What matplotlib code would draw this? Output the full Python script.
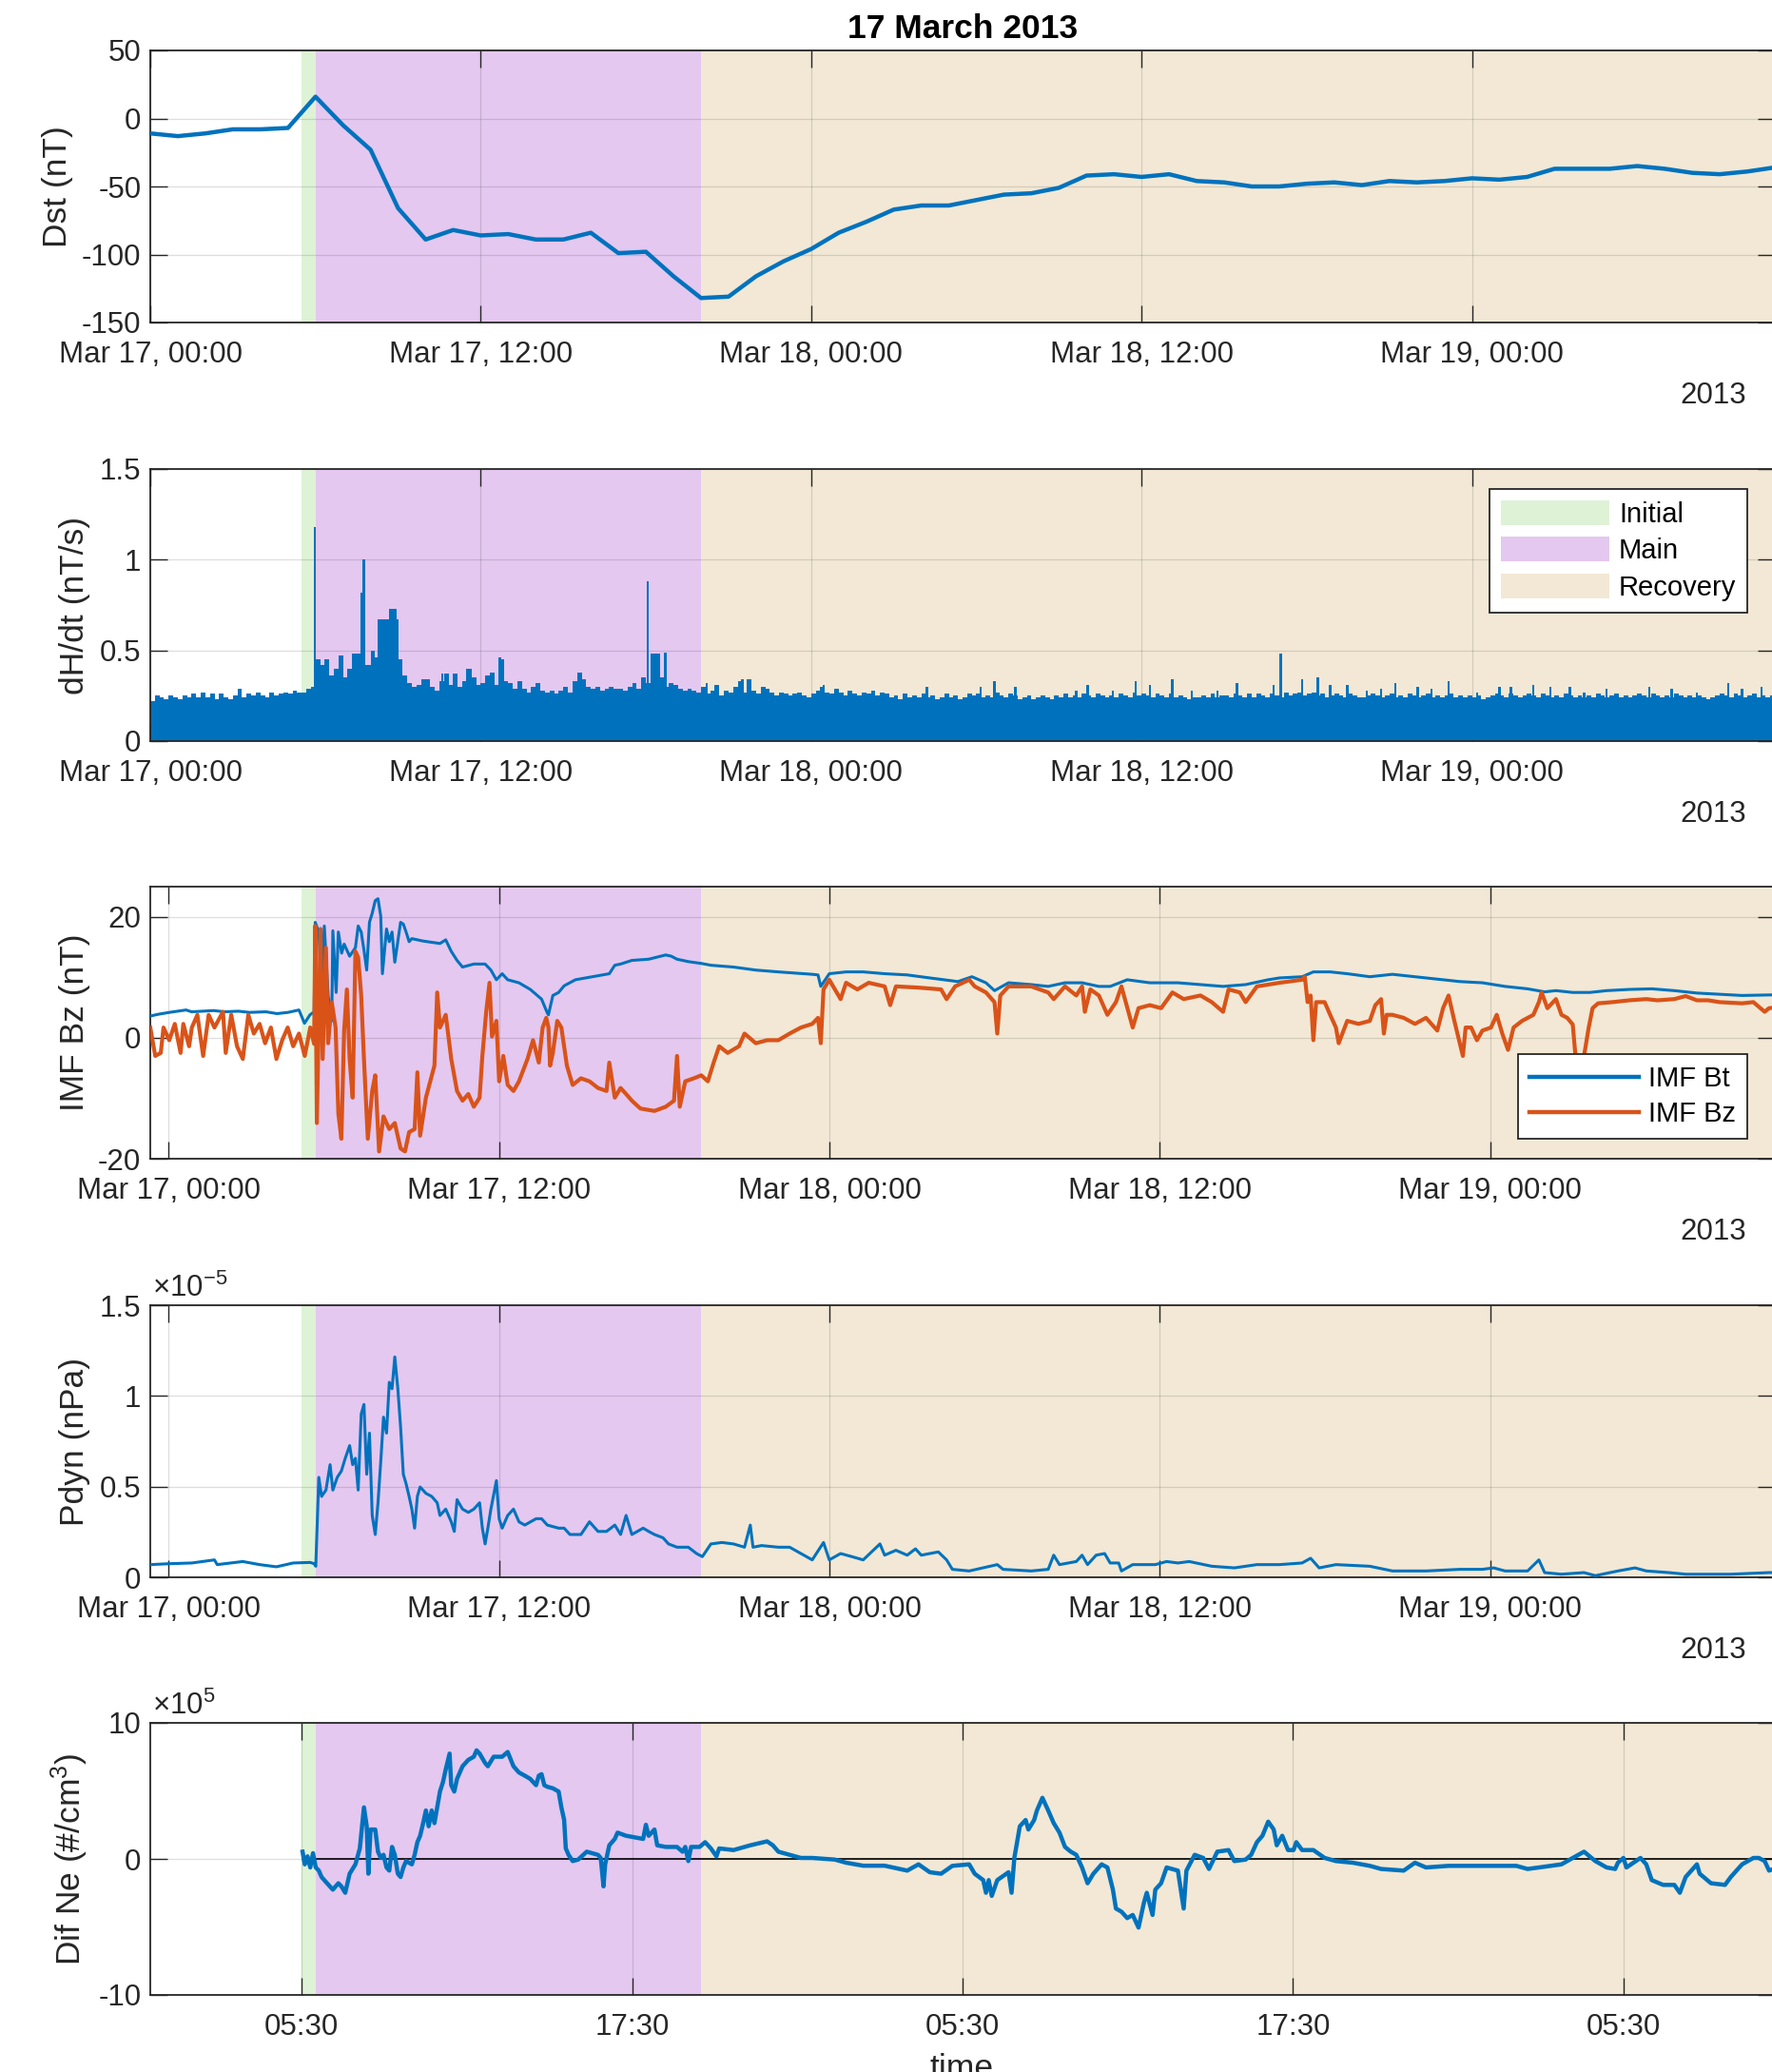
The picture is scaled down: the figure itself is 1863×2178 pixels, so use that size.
import numpy as np
import matplotlib
matplotlib.use('Agg')
import matplotlib.pyplot as plt
from matplotlib.patches import Patch
from matplotlib.lines import Line2D

plt.rcParams['font.family'] = ['Liberation Sans', 'DejaVu Sans']
plt.rcParams['mathtext.fontset'] = 'custom'
plt.rcParams['mathtext.rm'] = 'Liberation Sans'
plt.rcParams['mathtext.it'] = 'Liberation Sans:italic'
plt.rcParams['mathtext.bf'] = 'Liberation Sans:bold'
plt.rcParams['axes.unicode_minus'] = False

# ---------------- data (time in hours since 17 March 2013 00:00 UT) ----------------
T_END = 59.0
phase_names = ['Initial', 'Main', 'Recovery']
phase_bounds = [(5.5, 6.0), (6.0, 20.0), (20.0, T_END)]
phase_colors = ['#DEF2D6', '#E4C8F0', '#F2E8D5']

# Dst, hourly values (nT)
dst = [-11, -13, -11, -8, -8, -7, 16, -5, -23, -66, -89, -82, -86, -85, -89, -89,
       -84, -99, -98, -116, -132, -131, -116, -105, -96, -84, -76, -67, -64, -64,
       -60, -56, -55, -51, -42, -41, -43, -41, -46, -47, -50, -50, -48, -47, -49,
       -46, -47, -46, -44, -45, -43, -37, -37, -37, -35, -37, -40, -41, -39, -36]

# dH/dt envelope, 10-minute bins (nT/s)
dhdt_10min = [
    .22, .25, .24, .23, .25, .24,  .23, .25, .24, .26, .24, .27,
    .24, .26, .23, .26, .24, .23,  .25, .29, .24, .26, .25, .27,
    .25, .24, .27, .25, .26, .27,  .26, .28, .27, .27, .29, .30,
    .45, .42, .45, .36, .40, .47,  .35, .40, .48, .48, .42, .42,
    .50, .46, .67, .67, .73, .67,  .45, .36, .32, .30, .31, .34,
    .34, .30, .28, .33, .37, .31,  .37, .30, .33, .40, .35, .31,
    .32, .36, .38, .31, .45, .33,  .32, .29, .33, .29, .27, .30,
    .32, .28, .27, .28, .26, .28,  .30, .27, .33, .38, .34, .30,
    .29, .30, .28, .29, .30, .29,  .29, .28, .30, .32, .29, .35,
    .32, .48, .48, .35, .30, .32,  .31, .29, .28, .29, .28, .27,
    .30, .26, .28, .31, .25, .28,  .27, .30, .33, .27, .34, .28,
    .26, .30, .29, .27, .25, .27,  .26, .25, .26, .27, .25, .24,
    .26, .28, .30, .27, .26, .29,  .27, .25, .28, .26, .25, .27,
    .26, .28, .25, .27, .26, .24,  .25, .23, .26, .24, .25, .24,
    .26, .24, .25, .23, .24, .26,  .24, .25, .23, .24, .26, .25,
    .26, .24, .25, .24, .27, .25,  .24, .26, .25, .23, .24, .25,
    .23, .24, .25, .24, .23, .25,  .24, .26, .24, .25, .24, .26,
    .25, .24, .26, .25, .24, .25,  .24, .26, .25, .24, .27, .25,
    .26, .25, .24, .26, .25, .24,  .26, .24, .25, .24, .23, .24,
    .24, .25, .24, .26, .24, .25,  .25, .24, .26, .25, .24, .26,
    .24, .26, .25, .24, .26, .25,  .24, .27, .25, .26, .27, .25,
    .26, .27, .25, .26, .24, .25,  .26, .25, .24, .26, .25, .24,
    .24, .25, .26, .25, .24, .25,  .26, .24, .25, .24, .26, .25,
    .24, .25, .26, .24, .25, .24,  .25, .26, .24, .25, .24, .25,
    .24, .25, .23, .24, .25, .26,  .25, .24, .26, .25, .24, .25,
    .26, .25, .24, .26, .25, .24,  .25, .24, .26, .25, .24, .25,
    .24, .25, .24, .26, .25, .24,  .25, .26, .24, .25, .24, .25,
    .26, .25, .24, .26, .25, .24,  .25, .24, .26, .25, .24, .25,
    .24, .25, .24, .23, .24, .25,  .26, .25, .24, .26, .25, .24,
    .25, .26, .24, .25, .24, .25,
]
# narrow dH/dt spikes (hour, nT/s)
dhdt_spikes = [
    (5.97, 1.18), (6.14, 0.45), (7.66, 0.82), (7.76, 1.00), (8.31, 0.67), (8.90, 0.73),
    (10.60, 0.37), (11.50, 0.40), (12.70, 0.46), (15.60, 0.38), (18.06, 0.88),
    (18.41, 0.48), (18.70, 0.49), (20.20, 0.32), (21.50, 0.34), (24.45, 0.31),
    (28.20, 0.30), (30.15, 0.30), (30.66, 0.33), (31.42, 0.30), (33.63, 0.28),
    (34.04, 0.31), (34.96, 0.28), (35.78, 0.33), (36.30, 0.31), (37.12, 0.34),
    (37.83, 0.28), (38.75, 0.28), (39.47, 0.32), (40.80, 0.31), (41.05, 0.48),
    (41.83, 0.34), (42.40, 0.35), (42.85, 0.31), (43.47, 0.31), (44.18, 0.28),
    (44.70, 0.29), (45.21, 0.32), (46.03, 0.30), (46.54, 0.29), (47.15, 0.33),
    (48.18, 0.27), (49.00, 0.30), (49.41, 0.30), (50.23, 0.31), (50.84, 0.30),
    (51.56, 0.30), (52.07, 0.27), (52.89, 0.29), (54.43, 0.30), (55.25, 0.29),
    (56.17, 0.27), (57.30, 0.32), (57.81, 0.29), (58.52, 0.30)]

# IMF Bt (hour, nT)
imf_bt = [
    (0.0, 3.6), (0.3, 3.9), (0.69, 4.2), (1.3, 4.6), (1.5, 4.3), (1.9, 4.4), (2.3, 4.5),
    (2.7, 4.3), (3.2, 4.4), (3.6, 4.2), (4.2, 4.3), (4.6, 4.0), (5.0, 4.2), (5.4, 4.6),
    (5.6, 2.4), (5.8, 3.8), (5.95, 4.3), (5.99, 19.1), (6.12, 17.5), (6.22, 8.6),
    (6.32, 18.5), (6.46, 7.0), (6.59, 2.8), (6.63, 17.7), (6.75, 7.5), (6.83, 17.5),
    (6.95, 14.0), (7.04, 15.5), (7.24, 13.5), (7.45, 14.9), (7.55, 18.5), (7.66, 17.5),
    (7.76, 14.5), (7.86, 11.2), (7.96, 19.1), (8.06, 20.6), (8.17, 22.7), (8.27, 23.0),
    (8.37, 20.1), (8.43, 10.6), (8.58, 18.0), (8.68, 15.9), (8.78, 17.5), (8.88, 12.5),
    (8.99, 15.9), (9.09, 19.1), (9.19, 18.8), (9.29, 17.5), (9.40, 15.9), (9.50, 16.4),
    (9.91, 16.0), (10.52, 15.6), (10.73, 16.2), (10.93, 14.3), (11.14, 12.8),
    (11.34, 11.7), (11.75, 12.2), (12.16, 12.2), (12.37, 11.2), (12.57, 9.6),
    (12.78, 10.6), (12.98, 9.6), (13.39, 9.1), (13.8, 8.0), (14.21, 6.4), (14.42, 4.1),
    (14.46, 3.8), (14.62, 7.0), (14.83, 7.5), (15.03, 8.6), (15.44, 9.6), (16.05, 10.1),
    (16.67, 10.6), (16.87, 12.0), (17.08, 12.2), (17.49, 12.8), (18.10, 13.0),
    (18.72, 13.7), (18.92, 13.5), (19.13, 13.0), (19.54, 12.6), (20.01, 12.3),
    (20.36, 12.0), (21.18, 11.7), (21.99, 11.2), (22.81, 10.9), (24.04, 10.5),
    (24.25, 10.4), (24.35, 8.5), (24.66, 10.6), (25.27, 10.9), (25.89, 10.9),
    (26.67, 10.6), (27.49, 10.4), (28.31, 9.9), (29.33, 9.3), (29.84, 10.1),
    (30.35, 9.1), (30.66, 7.8), (31.17, 9.1), (31.99, 8.8), (32.61, 8.5), (33.22, 9.1),
    (33.84, 9.1), (34.45, 8.5), (34.86, 8.5), (35.48, 9.6), (36.30, 9.1), (37.32, 9.1),
    (38.14, 8.8), (38.96, 8.5), (39.78, 8.8), (40.60, 9.6), (41.01, 9.9), (41.83, 10.1),
    (42.24, 10.9), (42.85, 10.9), (43.47, 10.6), (44.29, 10.1), (45.11, 10.5),
    (45.93, 10.1), (46.74, 9.7), (47.56, 9.3), (48.38, 9.1), (49.2, 8.5), (50.02, 8.1),
    (50.64, 7.6), (51.05, 7.8), (51.66, 7.5), (52.28, 7.5), (52.89, 7.8), (53.71, 8.0),
    (54.53, 8.1), (55.35, 7.8), (56.17, 7.4), (56.99, 7.2), (57.81, 7.0), (58.79, 7.1),
    (59.0, 7.1)]

# IMF Bz (hour, nT)
imf_bz = [
    (0.0, 1.7), (0.18, -3.0), (0.38, -2.5), (0.48, 1.7), (0.69, -0.4), (0.89, 2.3),
    (1.10, -2.5), (1.20, 2.3), (1.41, -1.4), (1.51, 1.7), (1.71, 3.8), (1.92, -3.0),
    (2.12, 3.8), (2.33, 1.7), (2.64, 4.3), (2.74, -2.5), (2.94, 3.8), (3.15, -1.4),
    (3.36, -3.5), (3.56, 3.8), (3.76, 0.7), (3.97, 2.3), (4.17, -0.9), (4.38, 1.7),
    (4.58, -3.5), (4.79, -0.4), (4.99, 1.7), (5.19, -1.4), (5.40, 0.7), (5.61, -3.0),
    (5.81, 1.7), (5.95, -1.0), (5.99, 18.5), (6.05, -14.1), (6.18, 18.0), (6.26, -3.5),
    (6.38, 14.9), (6.46, -0.9), (6.59, 5.9), (6.73, 1.7), (6.83, -12.5), (6.94, -16.7),
    (7.04, 1.2), (7.14, 8.0), (7.24, -3.5), (7.35, -9.9), (7.45, 14.3), (7.55, 13.3),
    (7.66, 7.0), (7.76, -3.5), (7.90, -16.7), (8.06, -8.8), (8.17, -6.2), (8.31, -18.8),
    (8.47, -13.0), (8.68, -15.1), (8.88, -14.1), (9.09, -18.3), (9.25, -18.8),
    (9.40, -15.6), (9.60, -15.1), (9.70, -5.7), (9.80, -16.2), (10.01, -9.9),
    (10.32, -4.6), (10.42, 7.5), (10.52, 1.7), (10.73, 3.8), (10.93, -3.5), (11.14, -8.8),
    (11.34, -10.4), (11.55, -9.3), (11.75, -11.4), (11.96, -9.9), (12.06, -3.0),
    (12.20, 4.3), (12.32, 9.1), (12.41, 0.2), (12.57, 2.8), (12.67, -7.2), (12.82, -3.0),
    (12.98, -7.8), (13.19, -8.8), (13.39, -7.2), (13.70, -3.5), (13.90, -0.4),
    (14.11, -4.1), (14.25, 1.7), (14.38, 3.3), (14.46, 1.7), (14.52, -4.6), (14.62, -2.5),
    (14.78, 2.8), (14.93, 1.7), (15.13, -4.6), (15.34, -7.8), (15.64, -6.7),
    (15.95, -7.2), (16.26, -8.3), (16.57, -8.8), (16.67, -4.1), (16.87, -9.9),
    (17.08, -8.3), (17.28, -9.3), (17.49, -10.4), (17.80, -11.7), (18.31, -12.1),
    (18.72, -11.4), (19.02, -10.4), (19.13, -3.0), (19.23, -11.4), (19.43, -7.2),
    (19.74, -6.7), (20.01, -6.2), (20.25, -7.2), (20.46, -4.1), (20.66, -1.4),
    (20.97, -2.5), (21.38, -1.4), (21.58, 0.7), (21.99, -0.9), (22.40, -0.4),
    (22.81, -0.4), (23.22, 0.7), (23.63, 1.7), (24.04, 2.3), (24.25, 3.3), (24.35, -0.9),
    (24.45, 8.0), (24.66, 9.6), (25.07, 6.4), (25.27, 9.1), (25.68, 8.0), (26.09, 9.1),
    (26.67, 8.5), (26.87, 5.4), (27.08, 8.5), (27.90, 8.3), (28.72, 8.0), (28.92, 6.4),
    (29.23, 8.5), (29.74, 9.6), (29.94, 8.5), (30.35, 7.5), (30.66, 5.9), (30.76, 0.7),
    (30.87, 7.0), (31.17, 8.5), (31.99, 8.5), (32.61, 7.5), (32.81, 6.4), (33.22, 8.5),
    (33.63, 7.0), (33.84, 8.5), (33.94, 4.3), (34.14, 8.0), (34.45, 7.0), (34.76, 3.8),
    (35.07, 5.9), (35.27, 8.5), (35.68, 1.7), (35.89, 4.9), (36.30, 5.4), (36.71, 4.9),
    (37.12, 7.5), (37.53, 6.4), (38.14, 7.0), (38.55, 5.9), (38.96, 4.3), (39.16, 8.0),
    (39.57, 7.5), (39.78, 5.9), (40.19, 8.5), (41.01, 9.1), (41.83, 9.6), (41.93, 10.1),
    (42.03, 5.9), (42.14, 7.0), (42.24, -0.4), (42.34, 5.9), (42.65, 5.9), (42.85, 3.8),
    (43.06, 1.7), (43.16, -0.9), (43.47, 2.8), (43.88, 2.3), (44.29, 2.8), (44.49, 5.4),
    (44.70, 6.4), (44.80, 0.7), (44.90, 3.8), (45.11, 3.8), (45.52, 3.3), (45.93, 2.3),
    (46.33, 3.3), (46.74, 1.2), (46.95, 4.9), (47.15, 7.0), (47.36, 2.8), (47.67, -3.0),
    (47.77, 1.7), (47.97, 1.7), (48.18, -0.4), (48.38, 1.2), (48.69, 1.7), (48.90, 3.8),
    (49.10, 0.7), (49.31, -2.0), (49.51, 1.7), (49.82, 2.8), (50.23, 3.8), (50.43, 5.9),
    (50.53, 7.5), (50.74, 4.9), (51.05, 6.4), (51.25, 3.8), (51.46, 3.3), (51.66, 2.2),
    (51.76, -3.0), (52.07, -3.0), (52.24, 1.7), (52.38, 4.9), (52.58, 5.7), (53.10, 5.9),
    (53.71, 6.2), (54.33, 6.4), (54.73, 6.2), (55.35, 6.4), (55.76, 6.9), (56.17, 6.2),
    (56.58, 6.2), (56.99, 5.9), (57.81, 5.7), (58.22, 5.9), (58.63, 4.3), (58.79, 4.9),
    (59.0, 5.0)]

# solar-wind dynamic pressure (hour, units of 1e-5 nPa)
pdyn_e5 = [
    (0.0, 0.070), (0.69, 0.075), (1.51, 0.079), (2.33, 0.096), (2.43, 0.070),
    (3.36, 0.087), (3.97, 0.070), (4.58, 0.058), (5.19, 0.079), (5.81, 0.082),
    (5.95, 0.075), (6.01, 0.061), (6.12, 0.551), (6.22, 0.446), (6.38, 0.481),
    (6.53, 0.621), (6.63, 0.481), (6.79, 0.551), (6.94, 0.586), (7.08, 0.656),
    (7.24, 0.726), (7.35, 0.621), (7.45, 0.656), (7.55, 0.481), (7.66, 0.900),
    (7.76, 0.953), (7.86, 0.568), (7.96, 0.795), (8.06, 0.341), (8.17, 0.236),
    (8.27, 0.411), (8.37, 0.638), (8.47, 0.883), (8.58, 0.795), (8.68, 1.075),
    (8.78, 1.040), (8.88, 1.215), (8.99, 1.040), (9.09, 0.830), (9.19, 0.568),
    (9.29, 0.516), (9.40, 0.446), (9.50, 0.376), (9.60, 0.271), (9.70, 0.446),
    (9.80, 0.498), (10.01, 0.463), (10.22, 0.446), (10.42, 0.411), (10.52, 0.341),
    (10.73, 0.376), (10.93, 0.306), (11.04, 0.253), (11.14, 0.428), (11.34, 0.376),
    (11.55, 0.358), (11.75, 0.376), (11.96, 0.411), (12.06, 0.271), (12.16, 0.184),
    (12.26, 0.271), (12.37, 0.376), (12.57, 0.533), (12.67, 0.323), (12.78, 0.271),
    (12.98, 0.341), (13.19, 0.376), (13.39, 0.306), (13.60, 0.288), (14.01, 0.323),
    (14.21, 0.323), (14.42, 0.288), (14.83, 0.271), (15.03, 0.271), (15.24, 0.236),
    (15.64, 0.236), (15.95, 0.306), (16.26, 0.253), (16.57, 0.253), (16.87, 0.288),
    (17.08, 0.236), (17.28, 0.341), (17.49, 0.236), (17.90, 0.271), (18.10, 0.253),
    (18.31, 0.236), (18.62, 0.218), (18.82, 0.184), (19.13, 0.166), (19.54, 0.166),
    (19.84, 0.131), (20.05, 0.114), (20.36, 0.184), (20.76, 0.192), (21.18, 0.184),
    (21.58, 0.166), (21.79, 0.288), (21.89, 0.166), (22.20, 0.175), (22.81, 0.166),
    (23.22, 0.166), (23.63, 0.131), (24.04, 0.096), (24.45, 0.192), (24.66, 0.096),
    (25.07, 0.131), (25.48, 0.114), (25.89, 0.096), (26.50, 0.184), (26.67, 0.122),
    (27.08, 0.149), (27.49, 0.122), (27.79, 0.157), (28.0, 0.122), (28.31, 0.131),
    (28.62, 0.140), (28.92, 0.096), (29.13, 0.044), (29.74, 0.035), (30.76, 0.070),
    (30.97, 0.044), (31.99, 0.035), (32.61, 0.044), (32.81, 0.122), (33.02, 0.070),
    (33.63, 0.087), (33.84, 0.122), (34.04, 0.070), (34.35, 0.122), (34.66, 0.131),
    (34.86, 0.079), (35.17, 0.079), (35.27, 0.035), (35.68, 0.070), (36.50, 0.070),
    (36.91, 0.087), (37.32, 0.079), (37.73, 0.087), (38.55, 0.061), (39.37, 0.052),
    (40.19, 0.070), (41.01, 0.070), (41.83, 0.079), (42.14, 0.105), (42.45, 0.052),
    (43.06, 0.070), (44.29, 0.061), (45.11, 0.035), (46.33, 0.035), (47.56, 0.044),
    (48.38, 0.044), (48.79, 0.052), (49.20, 0.035), (50.02, 0.035), (50.43, 0.096),
    (50.64, 0.026), (51.25, 0.017), (52.07, 0.026), (52.48, 0.009), (53.30, 0.035),
    (53.92, 0.052), (54.33, 0.035), (55.15, 0.026), (55.76, 0.017), (57.40, 0.017),
    (58.79, 0.026), (59.0, 0.026)]

# electron density difference (hour, units of 1e5 #/cm^3)
dif_ne_e5 = [
    (5.53, 0.53), (5.61, -0.40), (5.71, 0.19), (5.81, -0.63), (5.91, 0.42), (6.01, -0.63),
    (6.12, -0.86), (6.22, -1.33), (6.42, -1.79), (6.63, -2.26), (6.83, -1.79),
    (6.94, -2.02), (7.08, -2.49), (7.24, -1.09), (7.45, -0.40), (7.61, 0.77), (7.76, 3.79),
    (7.86, 2.40), (7.92, -1.09), (8.00, 2.16), (8.17, 2.16), (8.27, 0.53), (8.37, 0.07),
    (8.47, 0.30), (8.58, -0.63), (8.68, -0.86), (8.78, 0.88), (8.88, 0.30), (8.99, -1.09),
    (9.09, -1.33), (9.19, -0.63), (9.29, -0.16), (9.50, -0.40), (9.60, 0.30), (9.70, 1.23),
    (9.80, 1.70), (9.91, 2.63), (10.01, 3.56), (10.11, 2.40), (10.22, 3.56), (10.32, 2.63),
    (10.42, 3.79), (10.52, 4.95), (10.63, 5.65), (10.73, 6.58), (10.87, 7.74),
    (10.93, 5.42), (11.04, 4.95), (11.14, 5.88), (11.24, 6.35), (11.34, 6.81),
    (11.55, 7.28), (11.75, 7.51), (11.85, 7.98), (11.96, 7.74), (12.16, 7.05),
    (12.26, 6.81), (12.47, 7.51), (12.78, 7.51), (12.98, 7.86), (13.19, 6.81),
    (13.39, 6.35), (13.60, 6.12), (13.80, 5.88), (14.01, 5.42), (14.11, 6.12),
    (14.21, 6.23), (14.31, 5.42), (14.42, 5.30), (14.62, 5.19), (14.83, 4.95),
    (14.93, 3.79), (15.03, 2.86), (15.09, 0.77), (15.19, 0.30), (15.34, -0.16),
    (15.54, -0.05), (15.85, 0.53), (16.05, 0.42), (16.26, 0.30), (16.36, 0.07),
    (16.46, -2.02), (16.52, -0.40), (16.67, 1.00), (16.87, 1.47), (16.97, 1.93),
    (17.28, 1.70), (17.90, 1.47), (18.00, 2.51), (18.10, 1.70), (18.31, 2.16),
    (18.41, 1.00), (18.72, 0.88), (19.13, 0.88), (19.33, 0.53), (19.43, 0.88),
    (19.54, -0.16), (19.64, 0.88), (19.95, 0.88), (20.15, 1.23), (20.36, 0.77),
    (20.56, 0.19), (20.66, 0.77), (21.18, 0.65), (21.79, 1.00), (22.40, 1.29),
    (22.61, 1.00), (22.81, 0.53), (23.22, 0.30), (23.63, 0.07), (24.04, 0.07),
    (24.86, -0.05), (25.27, -0.28), (25.89, -0.50), (26.67, -0.50), (27.49, -0.86),
    (27.90, -0.40), (28.31, -0.98), (28.72, -1.09), (29.13, -0.51), (29.74, -0.40),
    (29.94, -1.09), (30.25, -1.56), (30.35, -2.49), (30.45, -1.56), (30.56, -2.72),
    (30.76, -1.56), (31.17, -0.98), (31.28, -2.49), (31.38, 0.07), (31.58, 2.40),
    (31.79, 2.86), (31.89, 2.16), (32.10, 2.86), (32.20, 3.56), (32.40, 4.49),
    (32.61, 3.56), (32.81, 2.63), (33.02, 1.93), (33.22, 0.88), (33.43, 0.53),
    (33.63, 0.30), (33.84, -0.63), (34.04, -1.79), (34.25, -1.09), (34.55, -0.40),
    (34.76, -0.63), (34.96, -2.26), (35.07, -3.65), (35.27, -3.88), (35.48, -4.35),
    (35.68, -4.12), (35.89, -5.05), (36.09, -3.19), (36.19, -2.49), (36.40, -4.12),
    (36.50, -2.26), (36.71, -1.79), (36.91, -0.63), (37.32, -0.86), (37.53, -3.65),
    (37.63, -0.86), (37.93, 0.30), (38.24, 0.07), (38.45, -0.74), (38.75, 0.53),
    (39.16, 0.65), (39.37, -0.16), (39.78, -0.05), (39.98, 0.30), (40.19, 1.23),
    (40.39, 1.70), (40.60, 2.74), (40.80, 2.16), (40.91, 1.00), (41.11, 1.70),
    (41.32, 0.65), (41.52, 0.65), (41.62, 1.23), (41.83, 0.65), (42.24, 0.65),
    (42.65, 0.07), (43.06, -0.16), (43.67, -0.28), (44.29, -0.51), (44.70, -0.74),
    (45.52, -0.86), (45.93, -0.28), (46.33, -0.63), (47.15, -0.51), (47.97, -0.51),
    (48.79, -0.51), (49.61, -0.51), (50.02, -0.74), (50.43, -0.63), (51.25, -0.40),
    (51.66, 0.07), (52.07, 0.53), (52.48, -0.16), (52.89, -0.63), (53.20, -0.74),
    (53.30, -0.28), (53.50, 0.07), (53.61, -0.63), (54.12, 0.07), (54.33, -0.40),
    (54.53, -1.56), (54.94, -1.91), (55.35, -1.91), (55.55, -2.49), (55.76, -1.33),
    (56.17, -0.40), (56.27, -1.09), (56.68, -1.79), (57.19, -1.91), (57.40, -1.33),
    (57.81, -0.40), (58.22, 0.07), (58.42, 0.07), (58.63, -0.16), (58.79, -0.86),
    (59.0, -0.70)]

# tick labels
date_tick_hours = [0, 12, 24, 36, 48]
date_tick_labels = ['Mar 17, 00:00', 'Mar 17, 12:00', 'Mar 18, 00:00',
                    'Mar 18, 12:00', 'Mar 19, 00:00']
sw_tick_shift_h = 0.667   # solar-wind panels' date ticks are offset by 40 min
time_tick_hours = [5.5, 17.5, 29.5, 41.5, 53.5]
time_tick_labels = ['05:30', '17:30', '05:30', '17:30', '05:30']

# ---------------- figure layout (pixels) ----------------
W, H, DPI = 1863, 2178, 100
AX_LEFT, AX_W, AX_H = 158, 1708, 286
TOPS = [53, 493, 932, 1372, 1811]
DARK = '#262626'
BLUE = '#0072BD'
ORANGE = '#D95319'
TICK_FS = 22.5
LABEL_FS = 25.5

fig = plt.figure(figsize=(W / DPI, H / DPI), dpi=DPI)
axes = [fig.add_axes([AX_LEFT / W, 1 - (t + AX_H) / H, AX_W / W, AX_H / H]) for t in TOPS]


def style(ax, ylim, yticks, yticklabels, xticks, xticklabels, ylabel, ylabel_x):
    ax.set_xlim(0, T_END)
    ax.set_ylim(*ylim)
    ax.set_yticks(yticks)
    ax.set_yticklabels(yticklabels)
    ax.set_xticks(xticks)
    ax.set_xticklabels(xticklabels)
    ax.tick_params(direction='in', length=13, width=1.0, colors=DARK,
                   labelsize=TICK_FS, top=True, right=True)
    ax.tick_params(axis='y', pad=7)
    ax.tick_params(axis='x', pad=14)
    ax.grid(True, color=DARK, alpha=0.15, lw=0.9)
    for s in ax.spines.values():
        s.set_color(DARK)
        s.set_linewidth(1.3)
    ax.set_ylabel(ylabel, fontsize=LABEL_FS, color=DARK)
    ax.yaxis.set_label_coords(ylabel_x, 0.5)
    for (a, b), c in zip(phase_bounds, phase_colors):
        ax.axvspan(a, b, color=c, lw=0, zorder=0.5)


def year_label(top):
    fig.text(1836 / W, 1 - (top + AX_H + 62) / H, '2013', ha='right', va='top',
             fontsize=TICK_FS, color=DARK)


def exponent_label(top, txt):
    fig.text(160 / W, 1 - (top - 9) / H, txt, ha='left', va='baseline',
             fontsize=TICK_FS, color=DARK)


LEG_KW = dict(fontsize=21, frameon=True, fancybox=False, edgecolor=DARK, framealpha=1,
              labelspacing=0.33, borderpad=0.4, handletextpad=0.35, borderaxespad=0)

sw_ticks = [h + sw_tick_shift_h for h in date_tick_hours]

# Panel 1: Dst
ax = axes[0]
style(ax, (-150, 50), [-150, -100, -50, 0, 50], ['-150', '-100', '-50', '0', '50'],
      date_tick_hours, date_tick_labels, 'Dst (nT)', (77 - AX_LEFT) / AX_W)
ax.plot(np.arange(len(dst)), dst, color=BLUE, lw=3.2, zorder=3)
ax.set_title('17 March 2013', fontsize=25.5, fontweight='bold', pad=9)
year_label(TOPS[0])

# Panel 2: dH/dt
ax = axes[1]
style(ax, (0, 1.5), [0, 0.5, 1, 1.5], ['0', '0.5', '1', '1.5'],
      date_tick_hours, date_tick_labels, 'dH/dt (nT/s)', (95 - AX_LEFT) / AX_W)
edges = np.arange(len(dhdt_10min) + 1) / 6.0
ax.stairs(dhdt_10min, edges, fill=True, color=BLUE, lw=0, zorder=2)
sp = np.array(dhdt_spikes)
ax.bar(sp[:, 0], sp[:, 1], width=0.08, color=BLUE, lw=0, zorder=2)
phase_handles = [Patch(facecolor=c, edgecolor='none', label=n)
                 for n, c in zip(phase_names, phase_colors)]
leg = ax.legend(handles=phase_handles, loc='upper right',
                bbox_to_anchor=((1837 - AX_LEFT) / AX_W, (TOPS[1] + AX_H - 514) / AX_H),
                handlelength=3.9, handleheight=1.0, **LEG_KW)
leg.get_frame().set_linewidth(1.3)
year_label(TOPS[1])

# Panel 3: IMF Bt / Bz
ax = axes[2]
style(ax, (-20, 25), [-20, 0, 20], ['-20', '0', '20'],
      sw_ticks, date_tick_labels, 'IMF Bz (nT)', (95 - AX_LEFT) / AX_W)
bt = np.array(imf_bt)
bz = np.array(imf_bz)
ax.plot(bt[:, 0], bt[:, 1], color=BLUE, lw=2.2, zorder=3)
ax.plot(bz[:, 0], bz[:, 1], color=ORANGE, lw=3.0, zorder=3)
line_handles = [Line2D([], [], color=BLUE, lw=3.2, label='IMF Bt'),
                Line2D([], [], color=ORANGE, lw=3.2, label='IMF Bz')]
leg = ax.legend(handles=line_handles, loc='lower right',
                bbox_to_anchor=((1837 - AX_LEFT) / AX_W, (TOPS[2] + AX_H - 1197) / AX_H),
                handlelength=3.95, **LEG_KW)
leg.get_frame().set_linewidth(1.3)
year_label(TOPS[2])

# Panel 4: Pdyn
ax = axes[3]
style(ax, (0, 1.5e-5), [0, 0.5e-5, 1e-5, 1.5e-5], ['0', '0.5', '1', '1.5'],
      sw_ticks, date_tick_labels, 'Pdyn (nPa)', (95 - AX_LEFT) / AX_W)
pd = np.array(pdyn_e5)
ax.plot(pd[:, 0], pd[:, 1] * 1e-5, color=BLUE, lw=2.2, zorder=3)
exponent_label(TOPS[3], '×10$^{-5}$')
year_label(TOPS[3])

# Panel 5: Dif Ne
ax = axes[4]
style(ax, (-1e6, 1e6), [-1e6, 0, 1e6], ['-10', '0', '10'],
      time_tick_hours, time_tick_labels, 'Dif Ne (#/cm$^3$)', (95 - AX_LEFT) / AX_W)
ne = np.array(dif_ne_e5)
ax.plot([ne[0, 0], T_END], [0, 0], color='black', lw=1.2, zorder=2.5)
ax.plot(ne[:, 0], ne[:, 1] * 1e5, color=BLUE, lw=3.2, zorder=3)
exponent_label(TOPS[4], '×10$^{5}$')
fig.text((AX_LEFT + 1706 / 2) / W, 1 - 2158 / H, 'time', ha='center', va='top',
         fontsize=LABEL_FS, color=DARK)

fig.savefig('out.png', dpi=DPI)
